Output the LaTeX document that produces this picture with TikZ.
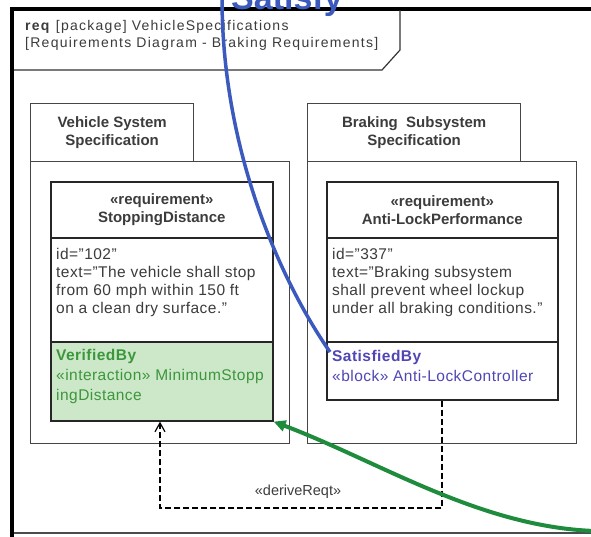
\documentclass[tikz,border=0pt]{standalone}
\usepackage{fontspec}
\setmainfont{Liberation Sans}
\usetikzlibrary{arrows.meta}
\definecolor{txtgray}{RGB}{60,60,60}
\definecolor{pkggray}{RGB}{70,70,70}
\definecolor{verfill}{RGB}{204,232,200}
\definecolor{vertext}{RGB}{60,150,60}
\definecolor{sattext}{RGB}{80,70,180}
\definecolor{satline}{RGB}{60,90,190}
\definecolor{greenline}{RGB}{30,140,60}
\tikzset{
  pkgbox/.style={draw=pkggray, line width=1.3pt, fill=white, inner sep=0pt, anchor=north west},
  reqbox/.style={draw=black!85, line width=1.6pt, fill=white, inner sep=0pt, anchor=north west},
  tabtext/.style={font=\fontsize{15}{18}\selectfont\bfseries, text=txtgray, align=center, inner sep=0pt},
  attrtext/.style={font=\fontsize{15.5}{18}\selectfont\addfontfeature{LetterSpace=3}, text=txtgray, align=left, inner sep=0pt, anchor=north west},
  hdrtext/.style={font=\fontsize{14}{17}\selectfont\addfontfeature{LetterSpace=9}, text=txtgray, align=left, inner sep=0pt, anchor=north west},
}
\begin{document}
\begin{tikzpicture}[x=1pt,y=-1pt]
\useasboundingbox (0,0) rectangle (591,536);
\fill[white] (0,0) rectangle (591,536);
\begin{scope}
\clip (0,0) rectangle (591,536);
% outer frame
\draw[line width=1.2pt, black!70] (12,533) -- (600,533);
\draw[line width=4pt, black] (12,538) -- (12,9) -- (600,9);
% header pentagon
\draw[line width=1.2pt, black!80] (14,70) -- (382,70) -- (400,50) -- (400,10);
\node[hdrtext] (hdr) at (25,20) {\textbf{req} [package] VehicleSpecifications\\{}[Requirements Diagram - Braking Requirements]};
% packages
\node[pkgbox, minimum width=163pt, minimum height=58pt] (vtab) at (30,103) {};
\node[pkgbox, minimum width=259pt, minimum height=282pt] (vbody) at (30,161) {};
\node[pkgbox, minimum width=213pt, minimum height=58pt] (btab) at (307,103) {};
\node[pkgbox, minimum width=269pt, minimum height=282pt] (bbody) at (307,161) {};
\node[tabtext] (vtabtxt) at (vtab.center) {Vehicle System\\Specification};
\node[tabtext] (btabtxt) at (btab.center) {Braking\ \ Subsystem\\Specification};
% StoppingDistance requirement
\node[reqbox, minimum width=222pt, minimum height=56pt] (sdhead) at (50,181) {};
\node[reqbox, minimum width=222pt, minimum height=104pt] (sdattr) at (50,237) {};
\node[reqbox, fill=verfill, minimum width=222pt, minimum height=79pt] (sdver) at (50,341) {};
\node[tabtext] (sdname) at (sdhead.center) {«requirement»\\StoppingDistance};
\node[attrtext] (sdtxt) at (56,248) {id="102"\\text="The vehicle shall stop\\from 60 mph within 150 ft\\on a clean dry surface."};
\node[attrtext, font=\fontsize{15.5}{20}\selectfont\addfontfeature{LetterSpace=3}, text=vertext] (sdvtxt) at (56,349) {\textbf{VerifiedBy}\\«interaction» MinimumStopp\\ingDistance};
% Anti-Lock requirement
\node[reqbox, minimum width=231pt, minimum height=56pt] (alhead) at (326,181) {};
\node[reqbox, minimum width=231pt, minimum height=104pt] (alattr) at (326,237) {};
\node[reqbox, minimum width=231pt, minimum height=58pt] (alsat) at (326,341) {};
\node[tabtext] (alname) at (alhead.center) {«requirement»\\Anti-LockPerformance};
\node[attrtext] (altxt) at (332,248) {id="337"\\text="Braking subsystem\\shall prevent wheel lockup\\under all braking conditions."};
\node[attrtext, font=\fontsize{15.5}{20}\selectfont\addfontfeature{LetterSpace=3}, text=sattext] (alstxt) at (332,350) {\textbf{SatisfiedBy}\\«block» Anti-LockController};
% deriveReqt
\coordinate (d1) at (442,508);
\coordinate (d2) at (160,508);
\draw[line width=1.6pt, dash pattern=on 6pt off 3pt, -{Straight Barb[length=9pt,width=10pt,line width=1.2pt]}]
  (alsat.south -| d1) -- (d1) -- (d2) -- (sdver.south -| d2);
\node[font=\fontsize{14.5}{16}\selectfont, text=txtgray, inner sep=0pt] (drlbl) at (298,492) {«deriveReqt»};
% Satisfy annotation
\node[font=\fontsize{34}{34}\selectfont\bfseries, text=satline, anchor=base west, inner sep=0pt] (sat) at (231,9) {Satisfy};
\coordinate (satstart) at (222,-2);
\draw[line width=3.5pt, satline] (satstart) .. controls (222,150) and (280,280) .. (330,352);
% green verification arrow
\coordinate (gstart) at (595,531);
\draw[line width=4pt, greenline, -{Triangle[length=12pt,width=11pt]}] (gstart) .. controls (480,527) and (380,462) .. (sdver.south east);
\end{scope}
\end{tikzpicture}
\end{document}
